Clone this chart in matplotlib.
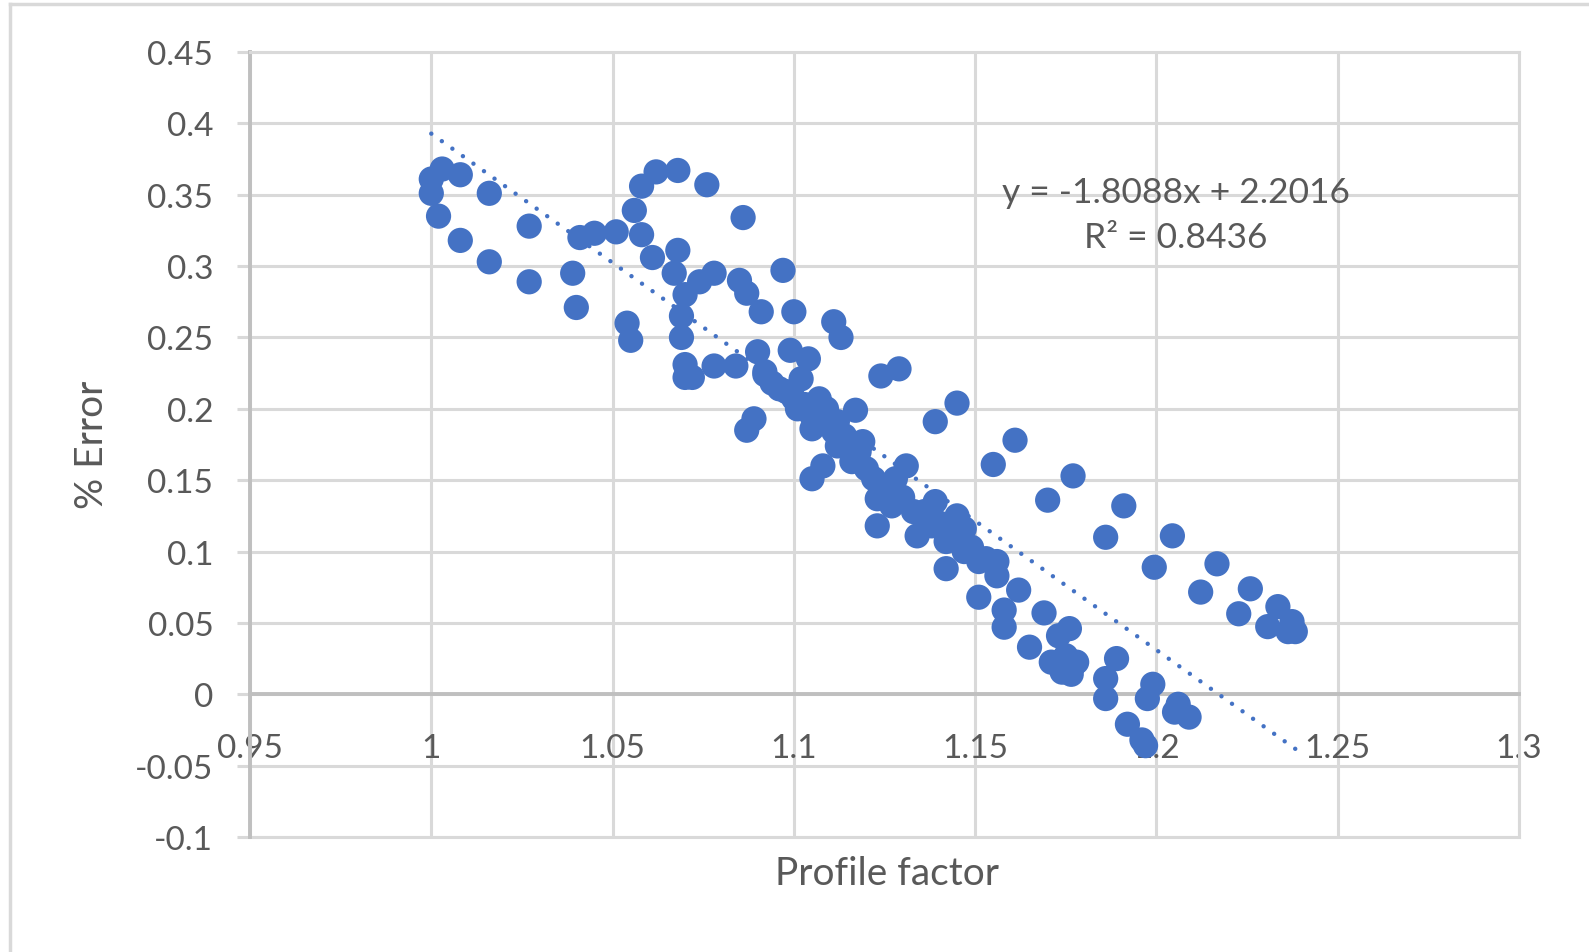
import matplotlib
matplotlib.use("Agg")
import matplotlib.pyplot as plt
from matplotlib.lines import Line2D
import numpy as np

# ---- data ----
profile_factor = [
    1.000, 1.003, 1.000, 1.002, 1.008, 1.008, 1.016, 1.016, 1.027, 1.027,
    1.039, 1.040, 1.041, 1.045, 1.051, 1.058, 1.056, 1.058, 1.062, 1.068,
    1.076, 1.086, 1.061, 1.068, 1.067, 1.070, 1.069, 1.069, 1.070, 1.070,
    1.072, 1.078, 1.084, 1.054, 1.055, 1.074, 1.078, 1.085, 1.087, 1.091,
    1.097, 1.100, 1.111, 1.113, 1.090, 1.099, 1.104, 1.092, 1.087, 1.089,
    1.096, 1.100, 1.101, 1.105, 1.107, 1.109, 1.105, 1.111, 1.112, 1.117,
    1.112, 1.116, 1.119, 1.122, 1.125, 1.131, 1.128, 1.123, 1.123, 1.127,
    1.133, 1.134, 1.139, 1.138, 1.145, 1.142, 1.146, 1.142, 1.147, 1.156,
    1.156, 1.151, 1.162, 1.158, 1.169, 1.105, 1.108, 1.124, 1.129, 1.139,
    1.145, 1.155, 1.161, 1.170, 1.177, 1.186, 1.191, 1.092, 1.102, 1.136,
    1.147, 1.151, 1.158, 1.165, 1.176, 1.173, 1.171, 1.175, 1.177, 1.1765,
    1.174, 1.178, 1.189, 1.186, 1.186, 1.192, 1.196, 1.197, 1.199, 1.1975,
    1.206, 1.205, 1.209, 1.2044, 1.1994, 1.2167, 1.2122, 1.2259, 1.2227, 1.2335,
    1.2307, 1.2374, 1.2363, 1.2383,
    1.098, 1.103, 1.107, 1.110, 1.114, 1.118, 1.120, 1.126, 1.130, 1.136,
    1.140, 1.144, 1.149, 1.153, 1.094,
]
pct_error = [
    0.361, 0.368, 0.351, 0.335, 0.364, 0.318, 0.351, 0.303, 0.328, 0.289,
    0.295, 0.271, 0.320, 0.323, 0.324, 0.322, 0.339, 0.356, 0.366, 0.367,
    0.357, 0.334, 0.306, 0.311, 0.295, 0.280, 0.265, 0.250, 0.231, 0.222,
    0.222, 0.230, 0.230, 0.260, 0.248, 0.289, 0.295, 0.290, 0.281, 0.268,
    0.297, 0.268, 0.261, 0.250, 0.240, 0.241, 0.235, 0.224, 0.185, 0.193,
    0.214, 0.207, 0.200, 0.195, 0.207, 0.200, 0.186, 0.184, 0.191, 0.199,
    0.174, 0.163, 0.177, 0.151, 0.142, 0.160, 0.151, 0.137, 0.118, 0.132,
    0.128, 0.111, 0.135, 0.118, 0.125, 0.107, 0.114, 0.088, 0.100, 0.093,
    0.083, 0.068, 0.073, 0.059, 0.057, 0.151, 0.160, 0.223, 0.228, 0.191,
    0.204, 0.161, 0.178, 0.136, 0.153, 0.110, 0.132, 0.226, 0.221, 0.123,
    0.116, 0.093, 0.047, 0.033, 0.046, 0.041, 0.0225, 0.027, 0.020, 0.014,
    0.0155, 0.0225, 0.025, 0.011, -0.003, -0.021, -0.032, -0.036, 0.007, -0.003,
    -0.007, -0.0125, -0.016, 0.111, 0.089, 0.0914, 0.0716, 0.0739, 0.0564, 0.0614,
    0.0474, 0.0509, 0.0439, 0.0439,
    0.212, 0.203, 0.193, 0.188, 0.181, 0.170, 0.158, 0.146, 0.138, 0.128,
    0.120, 0.113, 0.103, 0.095, 0.218,
]
trend_slope = -1.8088
trend_intercept = 2.2016
r_squared = 0.8436

x_ticks = [0.95, 1.0, 1.05, 1.1, 1.15, 1.2, 1.25, 1.3]
x_tick_labels = ["0.95", "1", "1.05", "1.1", "1.15", "1.2", "1.25", "1.3"]
y_ticks = [-0.1, -0.05, 0, 0.05, 0.1, 0.15, 0.2, 0.25, 0.3, 0.35, 0.4, 0.45]
y_tick_labels = ["-0.1", "-0.05", "0", "0.05", "0.1", "0.15", "0.2", "0.25",
                 "0.3", "0.35", "0.4", "0.45"]
x_title = "Profile factor"
y_title = "% Error"

# ---- styling ----
FONT = ["Lato", "DejaVu Sans"]
plt.rcParams["font.family"] = FONT
BLUE = "#4472C4"
GRID = "#D9D9D9"
AXIS = "#BFBFBF"
TEXT = "#595959"

W, H = 1589, 953
fig = plt.figure(figsize=(W / 100, H / 100), dpi=100)
fig.patch.set_facecolor("white")
ax = fig.add_axes([250 / W, 1 - 838 / H, (1519 - 250) / W, (838 - 53) / H])

ax.set_xlim(0.95, 1.3)
ax.set_ylim(-0.1, 0.45)
ax.set_xticks(x_ticks)
ax.set_xticklabels(x_tick_labels)
ax.set_yticks(y_ticks)
ax.set_yticklabels(y_tick_labels)
ax.grid(True, color=GRID, lw=2.2)
ax.set_axisbelow(True)
ax.axhline(-0.1, color=GRID, lw=2.2, clip_on=False, zorder=0.5)

for s in ("top", "right"):
    ax.spines[s].set_color(GRID)
    ax.spines[s].set_linewidth(2.2)
ax.spines["left"].set_color(AXIS)
ax.spines["left"].set_linewidth(2.8)
ax.spines["bottom"].set_position(("data", 0))
ax.spines["bottom"].set_color(AXIS)
ax.spines["bottom"].set_linewidth(2.8)

ax.tick_params(axis="x", length=0, pad=28, labelsize=24, labelcolor=TEXT)
ax.tick_params(axis="y", direction="out", length=9.4, width=2.2, color=GRID,
               pad=17, labelsize=24, labelcolor=TEXT)

# scatter
ax.scatter(profile_factor, pct_error, s=330, color=BLUE, edgecolors="none",
           zorder=3, clip_on=False)

# linear trendline
xs = np.array([min(profile_factor), max(profile_factor)])
ys = trend_slope * xs + trend_intercept
ax.plot(xs, ys, color=BLUE, lw=3.2, linestyle=(0, (0.01, 2.9)),
        dash_capstyle="round", zorder=4)

ax.text(1176 / W, 1 - 193 / H,
        f"y = {trend_slope:.4f}x + {trend_intercept:.4f}",
        transform=fig.transFigure, ha="center", va="center",
        fontsize=25.5, color=TEXT)
ax.text(1176 / W, 1 - 238 / H, f"R² = {r_squared:.4f}",
        transform=fig.transFigure, ha="center", va="center",
        fontsize=25.5, color=TEXT)

fig.text(887 / W, 1 - 874 / H, x_title, ha="center", va="center",
         fontsize=28, color=TEXT)
fig.text(92 / W, 1 - 445 / H, y_title, ha="center", va="center",
         rotation=90, fontsize=28, color=TEXT)

# chart-area border (top and left visible in the crop)
fig.add_artist(Line2D([10 / W, 10 / W], [0, 1 - 5 / H], color=GRID, lw=2.5,
                      transform=fig.transFigure))
fig.add_artist(Line2D([10 / W, 1], [1 - 5 / H, 1 - 5 / H], color=GRID, lw=2.5,
                      transform=fig.transFigure))

fig.savefig("out.png", dpi=100, facecolor="white")
